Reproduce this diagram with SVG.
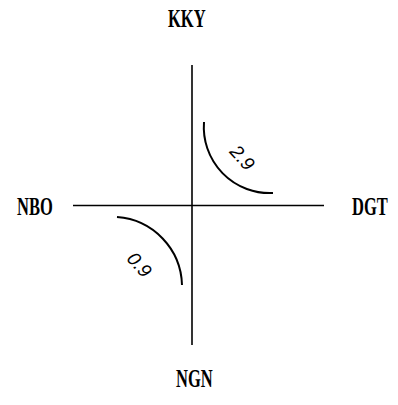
<svg xmlns="http://www.w3.org/2000/svg" width="398" height="405" viewBox="0 0 398 405">
<style>
.lbl{font-family:"Liberation Serif","DejaVu Serif",serif;font-size:25px;font-weight:bold;fill:#000}
.val{font-family:"Liberation Sans","DejaVu Sans",sans-serif;font-size:19px;font-style:italic;fill:#000}
.ax{stroke:#000;stroke-width:1.6;fill:none}
.arc{stroke:#000;stroke-width:2;fill:none}
</style>
<rect width="398" height="405" fill="#fff"/>
<g id="connectors">
<line class="ax" x1="192" y1="65" x2="192" y2="345"/>
<line class="ax" x1="73" y1="205.5" x2="324" y2="205.5"/>
<path class="arc" d="M204,122 A66,66 0 0,0 273,193"/>
<path class="arc" d="M117,217 A70,70 0 0,1 182,285"/>
</g>
<g id="KKY"><text class="lbl" transform="translate(168,27) scale(0.66,1)">KKY</text></g>
<g id="NBO"><text class="lbl" transform="translate(17,215) scale(0.66,1)">NBO</text></g>
<g id="DGT"><text class="lbl" transform="translate(352,215) scale(0.66,1)">DGT</text></g>
<g id="NGN"><text class="lbl" transform="translate(176,387) scale(0.66,1)">NGN</text></g>
<g id="v29"><text class="val" transform="translate(242,158) rotate(48)" text-anchor="middle" dy="6">2.9</text></g>
<g id="v09"><text class="val" transform="translate(139,265) rotate(48)" text-anchor="middle" dy="6">0.9</text></g>
</svg>
